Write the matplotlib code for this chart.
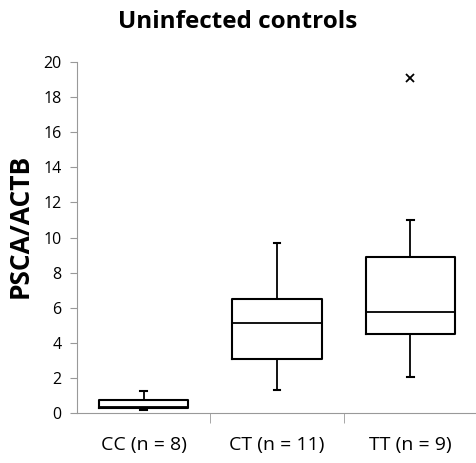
import matplotlib.pyplot as plt

plt.rcParams['font.family'] = ['Open Sans', 'DejaVu Sans']

# box statistics
groups = ['CC (n = 8)', 'CT (n = 11)', 'TT (n = 9)']
minimum = [0.21, 1.33, 2.07]
q1 = [0.30, 3.10, 4.50]
median = [0.36, 5.11, 5.74]
q3 = [0.74, 6.53, 8.90]
maximum = [1.25, 9.67, 10.98]
outliers = [[], [], [19.07]]

stats = []
for i in range(len(groups)):
    stats.append({'label': groups[i], 'whislo': minimum[i], 'q1': q1[i],
                  'med': median[i], 'q3': q3[i], 'whishi': maximum[i],
                  'fliers': outliers[i]})

fig = plt.figure(figsize=(4.77, 4.63), dpi=100)
ax = fig.add_axes([0.1614, 0.1073, 0.8386, 0.7594])

ax.bxp(stats, positions=[1, 2, 3], widths=0.67, capwidths=0.05,
       boxprops=dict(color='black', linewidth=1.5),
       medianprops=dict(color='black', linewidth=1.3),
       whiskerprops=dict(color='black', linewidth=1.3),
       capprops=dict(color='black', linewidth=1.5),
       flierprops=dict(marker='x', markeredgecolor='black', markersize=6,
                       markeredgewidth=1.3))

ax.set_xlim(0.5, 3.5)
ax.set_ylim(0, 20)
ax.set_yticks(range(0, 21, 2))
ax.set_xticks([1, 2, 3])
ax.set_xticklabels(groups, fontsize=14)
ax.set_xticks([1.5, 2.5], minor=True)
ax.tick_params(axis='x', which='major', length=0, pad=16)
ax.tick_params(axis='x', which='minor', length=7, color='#999999', direction='out')
ax.tick_params(axis='y', length=5, color='#999999', labelsize=11.5, pad=6)

for s in ['top', 'right']:
    ax.spines[s].set_visible(False)
ax.spines['left'].set_color('#999999')
ax.spines['bottom'].set_color('#999999')

fig.text(20 / 477, 1 - 226 / 463, 'PSCA/ACTB', fontsize=19, fontweight='bold',
         rotation=90, ha='center', va='center')
fig.text(238 / 477, 1 - 22 / 463, 'Uninfected controls', fontsize=17.5,
         fontweight='bold', ha='center', va='center')

fig.savefig('out.png', dpi=100)
